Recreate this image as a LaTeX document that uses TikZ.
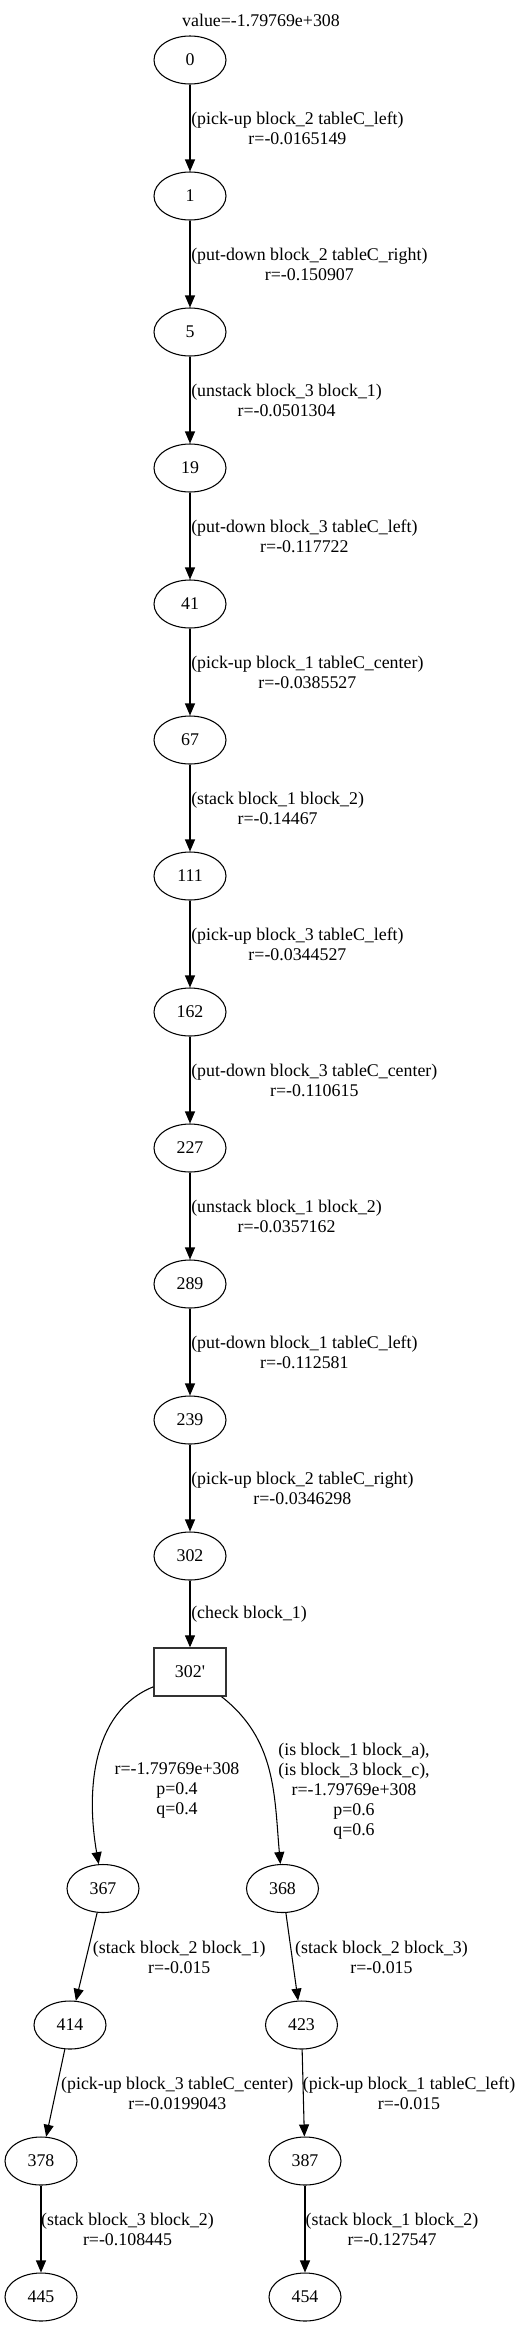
\documentclass[tikz,border=0pt]{standalone}
\usepackage{fontspec}
\setmainfont{Liberation Serif}[Ligatures=TeXOff]
\usetikzlibrary{arrows.meta,shapes.geometric}
\begin{document}
\begin{tikzpicture}[x=0.75pt,y=-0.75pt,
  font=\fontsize{13.4pt}{15pt}\selectfont,
  st/.style={draw, ellipse, minimum width=54pt, minimum height=36pt, inner sep=0pt, line width=0.8pt},
  chk/.style={draw=black!80, rectangle, minimum width=54pt, minimum height=36pt, inner sep=0pt, line width=1pt},
  lbl/.style={align=center, inner sep=0pt},
  clbl/.style={lbl, anchor=west},
  edge/.style={-{Triangle[length=9pt,width=7.5pt]}, line width=0.8pt}]
\useasboundingbox (0,0) rectangle (527,2327);
\node[lbl] (title) at (261,20.7) {value=-1.79769e+308};
% chain
\node[st] (n0) at (190,60) {0};
\node[st] (n1) at (190,196) {1};
\node[st] (n5) at (190,332) {5};
\node[st] (n19) at (190,468) {19};
\node[st] (n41) at (190,604) {41};
\node[st] (n67) at (190,740) {67};
\node[st] (n111) at (190,876) {111};
\node[st] (n162) at (190,1012) {162};
\node[st] (n227) at (190,1148) {227};
\node[st] (n289) at (190,1284) {289};
\node[st] (n239) at (190,1420) {239};
\node[st] (n302) at (190,1556) {302};
\node[chk] (b302) at (190,1672) {302'};
% branches
\node[st] (n367) at (103,1888.5) {367};
\node[st] (n368) at (282.5,1888.5) {368};
\node[st] (n414) at (70,2025) {414};
\node[st] (n423) at (301.5,2025) {423};
\node[st] (n378) at (41,2161) {378};
\node[st] (n387) at (305,2161) {387};
\node[st] (n445) at (41,2297) {445};
\node[st] (n454) at (305,2297) {454};
% chain edges
\draw[edge] (n0) -- (n1);
\draw[edge] (n1) -- (n5);
\draw[edge] (n5) -- (n19);
\draw[edge] (n19) -- (n41);
\draw[edge] (n41) -- (n67);
\draw[edge] (n67) -- (n111);
\draw[edge] (n111) -- (n162);
\draw[edge] (n162) -- (n227);
\draw[edge] (n227) -- (n289);
\draw[edge] (n289) -- (n239);
\draw[edge] (n239) -- (n302);
\draw[edge] (n302) -- (b302);
\draw[edge] (b302) to[out=202,in=100,looseness=0.95] (n367);
\draw[edge] (b302) to[out=-38,in=95] (n368);
\draw[edge] (n367) -- (n414);
\draw[edge] (n368) -- (n423);
\draw[edge] (n414) -- (n378);
\draw[edge] (n423) -- (n387);
\draw[edge] (n378) -- (n445);
\draw[edge] (n387) -- (n454);
% chain labels
\node[clbl] (l1) at (191,128) {(pick-up block\_2 tableC\_left)\\r=-0.0165149};
\node[clbl] (l2) at (191,264) {(put-down block\_2 tableC\_right)\\r=-0.150907};
\node[clbl] (l3) at (191,400) {(unstack block\_3 block\_1)\\r=-0.0501304};
\node[clbl] (l4) at (191,536) {(put-down block\_3 tableC\_left)\\r=-0.117722};
\node[clbl] (l5) at (191,672) {(pick-up block\_1 tableC\_center)\\r=-0.0385527};
\node[clbl] (l6) at (191,808) {(stack block\_1 block\_2)\\r=-0.14467};
\node[clbl] (l7) at (191,944) {(pick-up block\_3 tableC\_left)\\r=-0.0344527};
\node[clbl] (l8) at (191,1080) {(put-down block\_3 tableC\_center)\\r=-0.110615};
\node[clbl] (l9) at (191,1216) {(unstack block\_1 block\_2)\\r=-0.0357162};
\node[clbl] (l10) at (191,1352) {(put-down block\_1 tableC\_left)\\r=-0.112581};
\node[clbl] (l11) at (191,1488) {(pick-up block\_2 tableC\_right)\\r=-0.0346298};
\node[clbl] (l12) at (191,1614) {(check block\_1)};
% branch labels
\node[lbl] (bl1) at (177,1790.7) {r=-1.79769e+308\\p=0.4\\q=0.4};
\node[lbl] (bl2) at (354,1790.7) {(is block\_1 block\_a),\\(is block\_3 block\_c),\\r=-1.79769e+308\\p=0.6\\q=0.6};
\node[lbl] (bl3) at (179.3,1957) {(stack block\_2 block\_1)\\r=-0.015};
\node[lbl] (bl4) at (381.5,1957) {(stack block\_2 block\_3)\\r=-0.015};
\node[lbl] (bl5) at (177.3,2093) {(pick-up block\_3 tableC\_center)\\r=-0.0199043};
\node[lbl] (bl6) at (409,2093) {(pick-up block\_1 tableC\_left)\\r=-0.015};
\node[lbl] (bl7) at (127.5,2229) {(stack block\_3 block\_2)\\r=-0.108445};
\node[lbl] (bl8) at (392,2229) {(stack block\_1 block\_2)\\r=-0.127547};
\end{tikzpicture}
\end{document}
